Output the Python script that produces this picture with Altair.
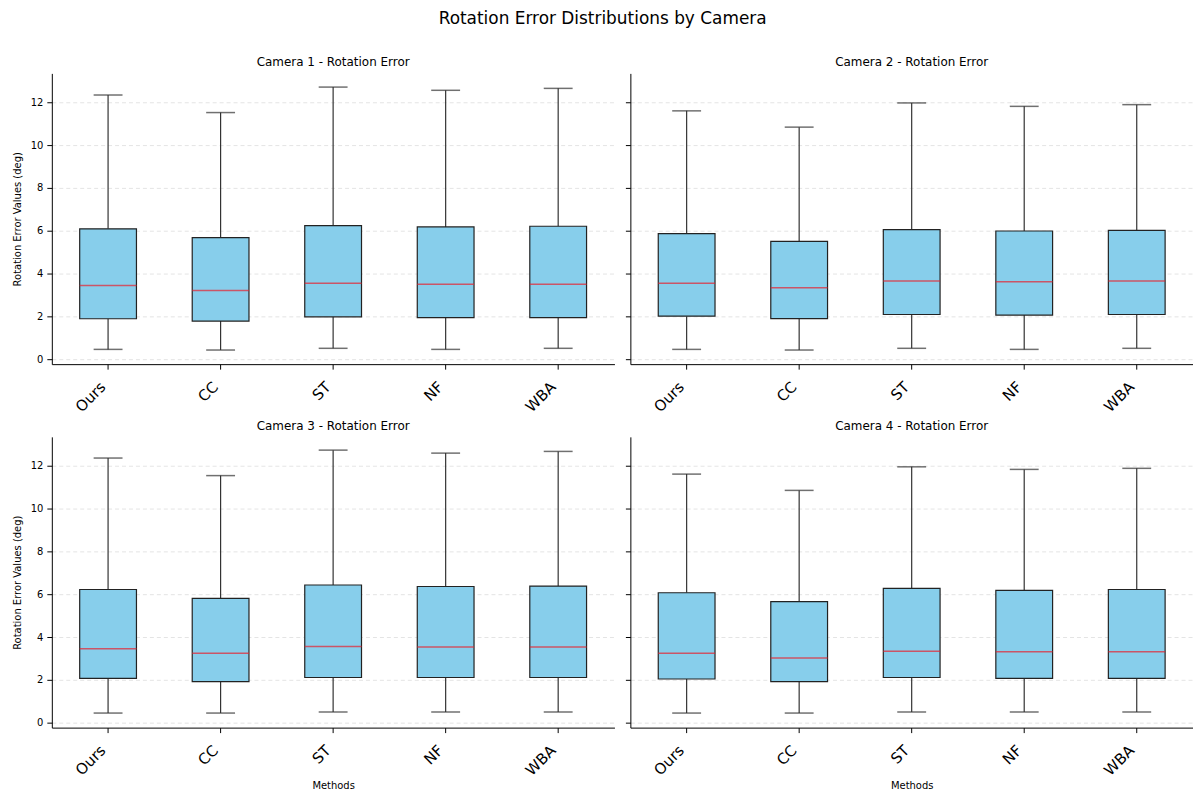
import altair as alt
import pandas as pd

methods = ["Ours", "CC", "ST", "NF", "WBA"]
cameras = ["Camera 1", "Camera 2", "Camera 3", "Camera 4"]

# per-camera statistics (rows: cameras 1..4, columns: methods)
whisker_low = [
    [0.46, 0.43, 0.51, 0.46, 0.51],
    [0.46, 0.43, 0.51, 0.46, 0.51],
    [0.45, 0.45, 0.50, 0.50, 0.50],
    [0.45, 0.45, 0.50, 0.50, 0.50],
]
q1 = [
    [1.89, 1.78, 1.98, 1.94, 1.94],
    [2.01, 1.90, 2.09, 2.06, 2.09],
    [2.07, 1.92, 2.11, 2.11, 2.11],
    [2.04, 1.92, 2.11, 2.07, 2.07],
]
median = [
    [3.44, 3.21, 3.55, 3.50, 3.50],
    [3.55, 3.34, 3.65, 3.62, 3.65],
    [3.45, 3.24, 3.56, 3.53, 3.53],
    [3.24, 3.02, 3.34, 3.31, 3.31],
]
q3 = [
    [6.09, 5.68, 6.24, 6.18, 6.21],
    [5.87, 5.50, 6.05, 5.99, 6.02],
    [6.22, 5.81, 6.43, 6.36, 6.38],
    [6.07, 5.65, 6.27, 6.18, 6.22],
]
whisker_high = [
    [12.34, 11.52, 12.71, 12.56, 12.65],
    [11.60, 10.84, 11.97, 11.81, 11.89],
    [12.36, 11.54, 12.73, 12.59, 12.67],
    [11.61, 10.85, 11.95, 11.83, 11.88],
]
y_ticks = [0, 2, 4, 6, 8, 10, 12]

FONT = "DejaVu Sans"
PANEL_W = 565
PANEL_H = 292
BOX_W = 57
CAP_W = 29


def panel(i, left, bottom):
    df = pd.DataFrame({
        "method": methods,
        "low": whisker_low[i],
        "q1": q1[i],
        "med": median[i],
        "q3": q3[i],
        "high": whisker_high[i],
    })
    xenc = alt.X(
        "method:N",
        sort=methods,
        scale=alt.Scale(paddingInner=0, paddingOuter=0),
        axis=alt.Axis(
            labelAngle=-45, labelAlign="right", labelBaseline="top",
            labelFontSize=15, labelColor="black", labelPadding=10,
            labelOffset=-10,
            tickColor="black", tickSize=5, domainColor="black",
            grid=False, titleFontSize=10, titleFontWeight="normal",
            titleColor="black", titlePadding=3,
        ),
        title="Methods" if bottom else None,
    )
    yscale = alt.Scale(domain=[-0.23, 13.35], nice=False, zero=False)
    yaxis = alt.Axis(
        values=y_ticks, labels=left, grid=True, gridDash=[4, 3],
        gridColor="#dddddd", gridWidth=0.8, labelFontSize=10,
        labelColor="black", labelPadding=4, tickColor="black", tickSize=5,
        domainColor="black", titleFontSize=10, titleFontWeight="normal",
        titleColor="black", titlePadding=8,
    )
    ytitle = "Rotation Error Values (deg)" if left else None

    def Y(field):
        return alt.Y(f"{field}:Q", scale=yscale, axis=yaxis, title=ytitle)

    base = alt.Chart(df).encode(x=xenc)
    w_low = base.mark_rule(color="#333333", strokeWidth=1.2).encode(y=Y("low"), y2="q1:Q")
    w_high = base.mark_rule(color="#333333", strokeWidth=1.2).encode(y=Y("q3"), y2="high:Q")
    box = base.mark_bar(size=BOX_W, fill="#87CEEB", stroke="#222222", strokeWidth=1.2).encode(
        y=Y("q1"), y2="q3:Q")
    med = base.mark_tick(color="#e8222f", size=BOX_W, thickness=1.5).encode(y=Y("med"))
    cap_low = base.mark_tick(color="#333333", size=CAP_W, thickness=1.5).encode(y=Y("low"))
    cap_high = base.mark_tick(color="#333333", size=CAP_W, thickness=1.5).encode(y=Y("high"))
    return alt.layer(w_low, w_high, box, med, cap_low, cap_high).properties(
        width=PANEL_W, height=PANEL_H,
        title=alt.TitleParams(f"{cameras[i]} - Rotation Error", fontSize=12,
                              fontWeight="normal", font=FONT, color="black", offset=4),
    )


top = alt.hconcat(panel(0, True, False), panel(1, False, False), spacing=10)
bot = alt.hconcat(panel(2, True, True), panel(3, False, True), spacing=10)
chart = alt.vconcat(top, bot, spacing=5).properties(
    title=alt.TitleParams("Rotation Error Distributions by Camera", fontSize=17,
                          fontWeight="normal", font=FONT, color="black",
                          anchor="middle", offset=29),
    padding={"top": 0, "left": 4, "right": 0, "bottom": 2},
).configure(font=FONT).configure_view(stroke=None).configure_axis(
    labelFont=FONT, titleFont=FONT)

chart.save("out.html", embed_options={"renderer": "svg", "actions": False})
